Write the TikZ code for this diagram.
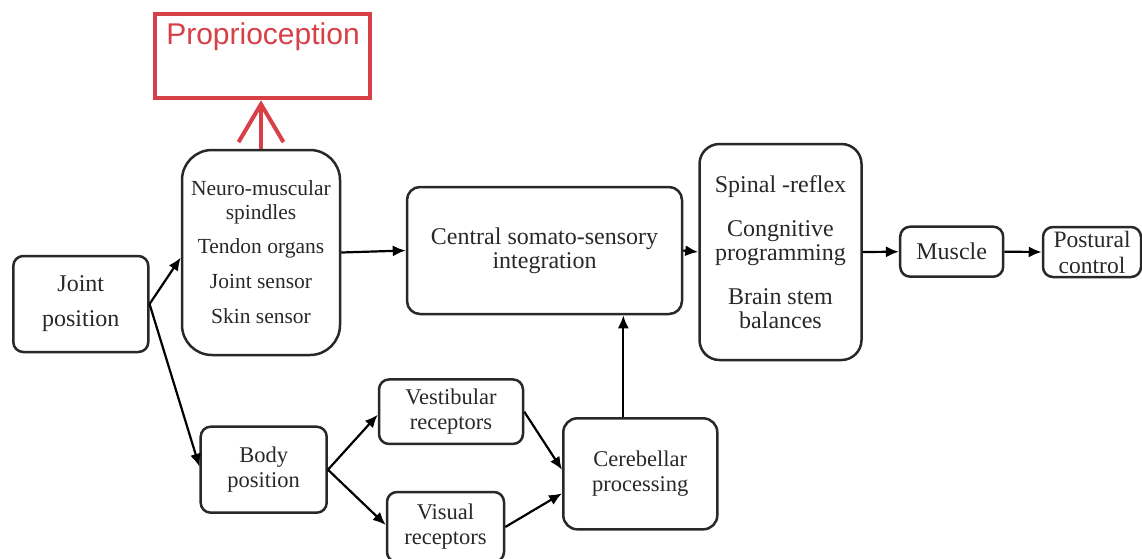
\documentclass[tikz,border=0pt]{standalone}
\usepackage{fontspec}
\setmainfont{Liberation Serif}
\newfontfamily\propfont{Liberation Sans}
\usetikzlibrary{arrows.meta}
\definecolor{propred}{RGB}{216,64,72}
\definecolor{ink}{RGB}{40,40,40}
\begin{document}
\begin{tikzpicture}[x=1pt,y=-1pt,
  box/.style={draw=ink, line width=2.5pt, rounded corners=10pt, inner sep=0pt,
    align=center, text=ink},
  big/.style={font=\fontsize{24}{24}\selectfont},
  mid/.style={font=\fontsize{22.5}{25}\selectfont},
  conn/.style={draw=black, line width=2.2pt, -{Latex[length=13pt,width=11pt]}},
  propbox/.style={draw=propred, line width=4.5pt, inner sep=0pt},
  proparrow/.style={draw=propred, line width=4pt, line cap=butt,
    -{Straight Barb[length=38pt,width=45pt,line width=4pt]}},
]
\useasboundingbox (0,0) rectangle (1142,558);

% Proprioception
\node[propbox, minimum width=215pt, minimum height=84pt] (prop) at (262.5,56) {};
\node[text=propred, font=\propfont\fontsize{30}{30}\selectfont, inner sep=0pt] (proptext) at (263,37) {Proprioception};

% boxes
\node[box, big, minimum width=135pt, minimum height=96pt] (joint) at (80.8,304) {Joint\\[11pt]position};
\node[box, rounded corners=30pt, font=\fontsize{21.5}{24}\selectfont, minimum width=158pt, minimum height=205pt] (neuro) at (261,252.5)
  {Neuro-muscular\\spindles\\[10pt]Tendon organs\\[11pt]Joint sensor\\[11pt]Skin sensor};
\node[box, big, rounded corners=13pt, minimum width=275pt, minimum height=127pt] (central) at (544.5,250.5)
  {Central somato-sensory\\integration};
\node[box, big, rounded corners=20pt, minimum width=162pt, minimum height=216pt] (spinal) at (780.5,252)
  {Spinal -reflex\\[20pt]Congnitive\\programming\\[20pt]Brain stem\\balances};
\node[box, big, minimum width=103pt, minimum height=50pt] (muscle) at (951.7,251.7) {Muscle};
\node[box, font=\fontsize{23.5}{26}\selectfont, minimum width=98pt, minimum height=50pt] (postural) at (1092,252) {Postural\\control};
\node[box, mid, minimum width=126pt, minimum height=86pt] (body) at (263.7,469.7) {Body\\position};
\node[box, mid, minimum width=144pt, minimum height=64.5pt] (vest) at (451,411.7) {Vestibular\\receptors};
\node[box, mid, minimum width=117pt, minimum height=70pt] (visual) at (445.5,527) {Visual\\receptors};
\node[box, mid, rounded corners=14pt, minimum width=154pt, minimum height=111pt] (cereb) at (640.3,473.8) {Cerebellar\\processing};

% connectors
\draw[proparrow] (neuro.north) -- (neuro.north |- prop.south);
\draw[conn] (joint.east) -- ([yshift=-5pt]neuro.west);
\draw[conn] (joint.east) -- ([yshift=3pt]body.west);
\draw[conn] (neuro.east) -- (central.west);
\draw[conn] (central.east) -- (spinal.west);
\draw[conn] (spinal.east) -- (muscle.west);
\draw[conn] (muscle.east) -- (postural.west);
\draw[conn] (body.east) -- ([yshift=-3pt]vest.west);
\draw[conn] (body.east) -- ([yshift=2pt]visual.west);
\draw[conn] (vest.east) -- ([yshift=4pt]cereb.west);
\draw[conn] (visual.east) -- ([yshift=-19.5pt]cereb.west);
\draw[conn] ([xshift=-17pt]cereb.north) -- ([xshift=-17pt]cereb.north |- central.south);
\end{tikzpicture}
\end{document}
